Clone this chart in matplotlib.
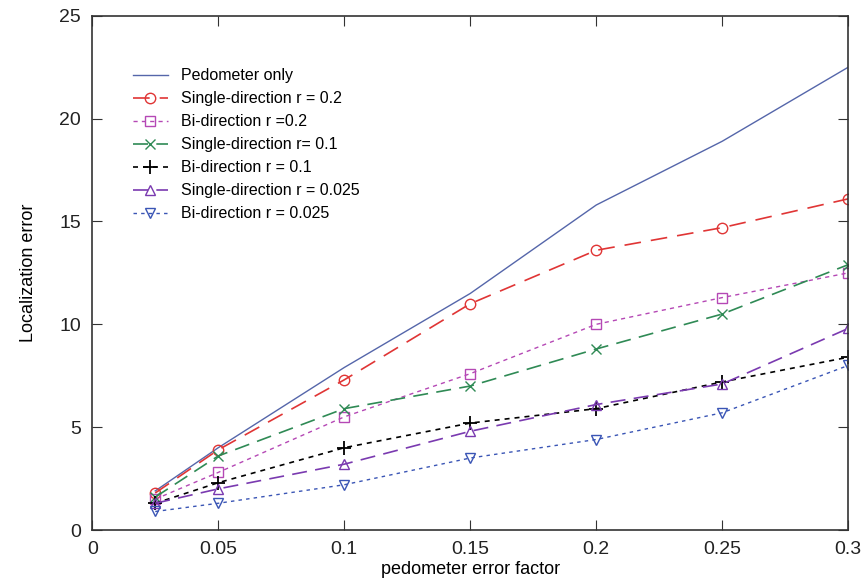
import numpy as np
import matplotlib
matplotlib.use("Agg")
import matplotlib.pyplot as plt

plt.rcParams['font.family'] = ['Liberation Sans', 'DejaVu Sans']

#%% Data
error_factor = [0.025, 0.05, 0.1, 0.15, 0.2, 0.25, 0.3]

pedometer_only = [1.9, 4.0, 7.9, 11.5, 15.8, 18.9, 22.5]
single_r02 = [1.8, 3.9, 7.3, 11.0, 13.6, 14.7, 16.1]
bi_r02 = [1.5, 2.8, 5.5, 7.6, 10.0, 11.3, 12.5]
single_r01 = [1.6, 3.6, 5.9, 7.0, 8.8, 10.5, 12.9]
bi_r01 = [1.3, 2.3, 4.0, 5.2, 5.9, 7.2, 8.4]
single_r0025 = [1.3, 2.0, 3.2, 4.8, 6.1, 7.1, 9.8]
bi_r0025 = [0.9, 1.3, 2.2, 3.5, 4.4, 5.7, 8.0]

labels = ["Pedometer only", "Single-direction r = 0.2", "Bi-direction r =0.2",
          "Single-direction r= 0.1", "Bi-direction r = 0.1",
          "Single-direction r = 0.025", "Bi-direction r = 0.025"]

#%% Plot
fig = plt.figure(figsize=(8.62, 5.85), dpi=100)
ax = fig.add_axes([0.107, 0.094, 0.877, 0.879])

ax.plot(error_factor, pedometer_only, '-', color='#5566aa', lw=1.0, label=labels[0])
ax.plot(error_factor, single_r02, color='#e03535', lw=1.2, dashes=(10, 6),
        marker='o', ms=7.5, mfc='none', mew=1.0, label=labels[1])
ax.plot(error_factor, bi_r02, color='#b548b5', lw=1.0, dashes=(3, 3),
        marker='s', ms=7.5, mfc='none', mew=1.0, label=labels[2])
ax.plot(error_factor, single_r01, color='#2f8a55', lw=1.2, dashes=(9, 5),
        marker='x', ms=6.5, mew=1.0, label=labels[3])
ax.plot(error_factor, bi_r01, color='black', lw=1.2, dashes=(3, 3),
        marker='+', ms=10, mew=1.3, label=labels[4])
ax.plot(error_factor, single_r0025, color='#7a3ab0', lw=1.2, dashes=(9, 5),
        marker='^', ms=7.5, mfc='none', mew=1.0, label=labels[5])
ax.plot(error_factor, bi_r0025, color='#3a55b5', lw=1.0, dashes=(2.5, 3),
        marker='v', ms=7.5, mfc='none', mew=1.0, label=labels[6])

ax.set_xlim(0, 0.3)
ax.set_ylim(0, 25)
ax.set_xticks([0, 0.05, 0.1, 0.15, 0.2, 0.25, 0.3])
ax.set_xticklabels(['0', '0.05', '0.1', '0.15', '0.2', '0.25', '0.3'])
ax.set_yticks([0, 5, 10, 15, 20, 25])
ax.tick_params(direction='in', top=True, right=True, length=7, labelsize=14,
               color='#333333', labelcolor='#222222')
ax.tick_params(axis='x', pad=8)
ax.tick_params(axis='y', pad=8)
for s in ax.spines.values():
    s.set_linewidth(1.2)
    s.set_color('#333333')

ax.set_xlabel('pedometer error factor', fontsize=13, labelpad=2)
ax.set_ylabel('Localization error', fontsize=13, labelpad=16)

ax.legend(loc='upper left', bbox_to_anchor=(0.045, 0.91), frameon=False,
          fontsize=11.5, handlelength=2.2, labelspacing=0.5, borderaxespad=0)

fig.savefig('out.png', dpi=100)
